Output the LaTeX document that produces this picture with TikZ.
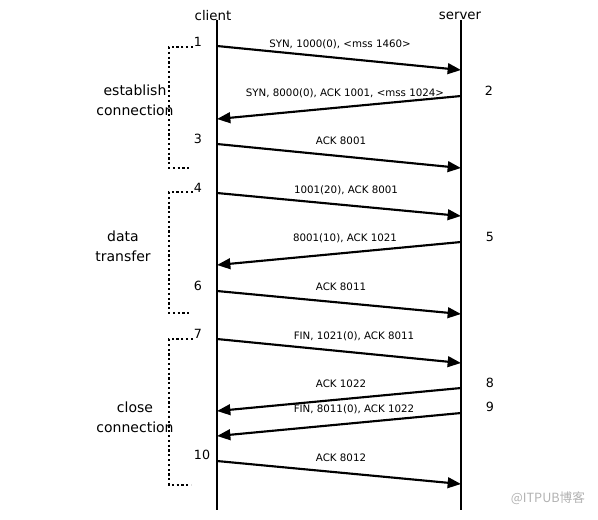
\documentclass[tikz,border=0pt]{standalone}
\usepackage{fontspec}
\setmainfont{DejaVu Sans}
\newfontfamily\cjkfont{Noto Sans CJK SC}
\usepackage{tikz}
\usetikzlibrary{arrows.meta}

\tikzset{
  lifeline/.style={line width=1.9pt},
  msg/.style={line width=1.6pt, -{Triangle[length=10pt,width=8pt]}},
  bracket/.style={line width=1.6pt, dotted},
  msglabel/.style={font=\fontsize{7.7}{9}\selectfont, inner sep=0pt},
  numlabel/.style={font=\fontsize{9.5}{11}\selectfont, inner sep=0pt},
  phase/.style={font=\fontsize{10.5}{15}\selectfont, align=center, inner sep=0pt},
}

\begin{document}
\begin{tikzpicture}[x=0.75pt, y=-0.75pt]
        \useasboundingbox (0,0) rectangle (598,519);
        % ends
        \node[font=\fontsize{10}{12}\selectfont, inner sep=0pt] (client) at (213,16) {client};
        \node[font=\fontsize{10}{12}\selectfont, inner sep=0pt] (server) at (460,16) {server};
        \coordinate (ctop) at (217,20);  \coordinate (cbot) at (217,510);
        \coordinate (stop) at (461,20);  \coordinate (sbot) at (461,510);
        \draw [lifeline] (ctop) -- (cbot);                            %client
        \draw [lifeline] (stop) -- (sbot);                            %server
        % message ends
        \coordinate (c1)  at (217,46);   \coordinate (s1)  at (461,70);
        \coordinate (s2)  at (461,96);   \coordinate (c2)  at (217,119);
        \coordinate (c3)  at (217,144);  \coordinate (s3)  at (461,168);
        \coordinate (c4)  at (217,193);  \coordinate (s4)  at (461,216);
        \coordinate (s5)  at (461,242);  \coordinate (c5)  at (217,265);
        \coordinate (c6)  at (217,291);  \coordinate (s6)  at (461,314);
        \coordinate (c7)  at (217,339);  \coordinate (s7)  at (461,363);
        \coordinate (s8)  at (461,388);  \coordinate (c8)  at (217,411);
        \coordinate (s9)  at (461,413);  \coordinate (c9)  at (217,436);
        \coordinate (c10) at (217,461);  \coordinate (s10) at (461,484);
        \draw [msg] (c1)  -- (s1);                                    %SYN
        \draw [msg] (s2)  -- (c2);                                    %SYN ACK
        \draw [msg] (c3)  -- (s3);                                    %ACK
        \draw [msg] (c4)  -- (s4);                                    %data
        \draw [msg] (s5)  -- (c5);                                    %data
        \draw [msg] (c6)  -- (s6);                                    %ACK
        \draw [msg] (c7)  -- (s7);                                    %FIN
        \draw [msg] (s8)  -- (c8);                                    %ACK
        \draw [msg] (s9)  -- (c9);                                    %FIN
        \draw [msg] (c10) -- (s10);                                   %ACK
        \node [msglabel] (m1)  at (340,44)  {SYN, 1000(0), <mss 1460>};
        \node [msglabel] (m2)  at (345,93)  {SYN, 8000(0), ACK 1001, <mss 1024>};
        \node [msglabel] (m3)  at (341,141) {ACK 8001};
        \node [msglabel] (m4)  at (346,190) {1001(20), ACK 8001};
        \node [msglabel] (m5)  at (345,238) {8001(10), ACK 1021};
        \node [msglabel] (m6)  at (341,287) {ACK 8011};
        \node [msglabel] (m7)  at (354,336) {FIN, 1021(0), ACK 8011};
        \node [msglabel] (m8)  at (341,384) {ACK 1022};
        \node [msglabel] (m9)  at (354,409) {FIN, 8011(0), ACK 1022};
        \node [msglabel] (m10) at (341,458) {ACK 8012};
        % step numbers
        \node [numlabel] (n1)  at (198,42)  {1};
        \node [numlabel] (n2)  at (489,91)  {2};
        \node [numlabel] (n3)  at (198,139) {3};
        \node [numlabel] (n4)  at (198,188) {4};
        \node [numlabel] (n5)  at (490,237) {5};
        \node [numlabel] (n6)  at (198,286) {6};
        \node [numlabel] (n7)  at (198,334) {7};
        \node [numlabel] (n8)  at (490,383) {8};
        \node [numlabel] (n9)  at (490,407) {9};
        \node [numlabel] (n10) at (202,455) {10};
        % phases
        \coordinate (e1) at (193,47);  \coordinate (e2) at (169,47);
        \coordinate (e3) at (169,168); \coordinate (e4) at (191,168);
        \coordinate (d1) at (193,192); \coordinate (d2) at (169,192);
        \coordinate (d3) at (169,313); \coordinate (d4) at (191,313);
        \coordinate (f1) at (193,339); \coordinate (f2) at (169,339);
        \coordinate (f3) at (169,485); \coordinate (f4) at (191,485);
        \draw [bracket] (e1) -- (e2) -- (e3) -- (e4);
        \draw [bracket] (d1) -- (d2) -- (d3) -- (d4);
        \draw [bracket] (f1) -- (f2) -- (f3) -- (f4);
        \node [phase] (est)  at (135,100) {establish\\connection};
        \node [phase] (data) at (123,246) {data\\transfer};
        \node [phase] (cls)  at (135,417) {close\\connection};
        \node [font=\cjkfont\fontsize{9.5}{11}\selectfont, text=black!30, inner sep=0pt] (mark) at (548,498) {@ITPUB博客};
\end{tikzpicture}
\end{document}
